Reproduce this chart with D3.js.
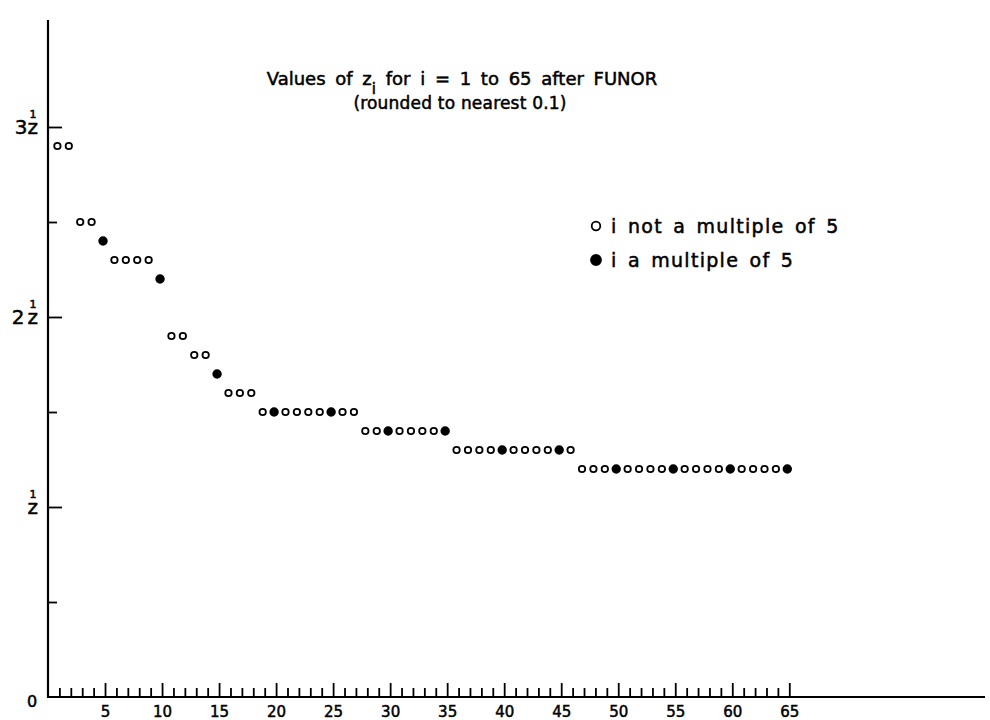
<!DOCTYPE html>
<html>
<head>
<meta charset="utf-8">
<script src="https://cdn.jsdelivr.net/npm/d3@7"></script>
<style>
  body { margin: 0; background: #fff; }
  text { font-family: "DejaVu Sans", sans-serif; fill: #000; stroke: #000; stroke-width: 0.5px; }
</style>
</head>
<body>
<svg id="chart"></svg>
<script>
// i = 1..65
var index = d3.range(1, 66)

// z_i values (rounded to 0.1), in units of z^1
var values = [
  2.9, 2.9,
  2.5, 2.5,
  2.4,
  2.3, 2.3, 2.3, 2.3,
  2.2,
  1.9, 1.9,
  1.8, 1.8,
  1.7,
  1.6, 1.6, 1.6,
  1.5, 1.5, 1.5, 1.5, 1.5, 1.5, 1.5, 1.5, 1.5,
  1.4, 1.4, 1.4, 1.4, 1.4, 1.4, 1.4, 1.4,
  1.3, 1.3, 1.3, 1.3, 1.3, 1.3, 1.3, 1.3, 1.3, 1.3, 1.3,
  1.2, 1.2, 1.2, 1.2, 1.2, 1.2, 1.2, 1.2, 1.2, 1.2,
  1.2, 1.2, 1.2, 1.2, 1.2, 1.2, 1.2, 1.2, 1.2
]

var xLabels = [5, 10, 15, 20, 25, 30, 35, 40, 45, 50, 55, 60, 65]
var yMajor = [1, 2, 3]
var yMinor = [0.5, 1.5, 2.5]
var yLabels = ["", "2", "3"]

var legendItems = ["i not a multiple of 5", "i a multiple of 5"]

var data = index.map(function(d, k) { return { i: d, v: values[k], filled: d % 5 === 0 } })

var dimensions = { width: 990, height: 720 }

var svg = d3.select("#chart")
  .attr("width", dimensions.width)
  .attr("height", dimensions.height)

var x = d3.scaleLinear().domain([0, 65]).range([48, 789.3])
var y = d3.scaleLinear().domain([0, 3]).range([697, 127])

// x axis: small ticks for every i, tall ones every 5
svg.append("g")
  .attr("transform", "translate(0," + y(0) + ")")
  .call(d3.axisBottom(x).tickValues(index.filter(function(d){ return d % 5 !== 0 }))
    .tickSize(-9).tickFormat(""))
  .call(function(g){ g.select(".domain").remove() })
  .selectAll("line").attr("stroke", "#000").attr("stroke-width", 1.8)

svg.append("g")
  .attr("transform", "translate(0," + y(0) + ")")
  .call(d3.axisBottom(x).tickValues(xLabels).tickSize(-14).tickPadding(9))
  .call(function(g){ g.select(".domain").remove() })
  .call(function(g){
    g.selectAll("line").attr("stroke", "#000").attr("stroke-width", 1.8)
    g.selectAll("text").style("font-size", "15px").attr("fill", "#000")
      .style("font-family", "DejaVu Sans, sans-serif")
  })

// y axis ticks (pointing inward)
svg.append("g")
  .attr("transform", "translate(" + x(0) + ",0)")
  .call(d3.axisLeft(y).tickValues(yMinor).tickSize(-9).tickFormat(""))
  .call(function(g){ g.select(".domain").remove() })
  .selectAll("line").attr("stroke", "#000").attr("stroke-width", 1.8)

var yAx = svg.append("g")
  .attr("transform", "translate(" + x(0) + ",0)")
  .call(d3.axisLeft(y).tickValues(yMajor).tickSize(-14).tickFormat(""))
  .call(function(g){ g.select(".domain").remove() })
yAx.selectAll("line").attr("stroke", "#000").attr("stroke-width", 1.8)

// axis lines
svg.append("line")
  .attr("x1", x(0)).attr("x2", 985)
  .attr("y1", y(0)).attr("y2", y(0))
  .attr("stroke", "#000").attr("stroke-width", 2.2)
svg.append("line")
  .attr("x1", x(0)).attr("x2", x(0))
  .attr("y1", y(0) + 1).attr("y2", 20)
  .attr("stroke", "#000").attr("stroke-width", 2.2)

// y labels: multiples of z with a "1" written above the z
yMajor.forEach(function(d, k) {
  var t = svg.append("text")
    .attr("x", 38).attr("y", y(d) + 7)
    .attr("text-anchor", "end")
    .style("font-size", "20px")
  if (yLabels[k]) t.append("tspan").text(yLabels[k])
  t.append("tspan").attr("dx", yLabels[k] === "2" ? 3 : 0).text("z")
  t.append("tspan")
    .attr("dx", -8.5).attr("dy", -16)
    .style("font-size", "11px")
    .text("1")
  t.append("tspan").attr("dx", -2).text("\u200a")
})
svg.append("text")
  .attr("x", 32).attr("y", y(0) + 10)
  .attr("text-anchor", "middle")
  .style("font-size", "16px")
  .text("0")

// points
svg.append("g")
  .selectAll("circle")
  .data(data)
  .join("circle")
    .attr("cx", function(d){ return x(d.i) - 2 })
    .attr("cy", function(d){ return y(d.v) })
    .attr("r", function(d){ return d.filled ? 3.8 : 3.2 })
    .attr("fill", function(d){ return d.filled ? "#000" : "#fff" })
    .attr("stroke", "#000")
    .attr("stroke-width", 1.8)

// title
var title = svg.append("text")
  .attr("x", 462).attr("y", 85)
  .attr("text-anchor", "middle")
  .style("font-size", "18px")
  .attr("word-spacing", "4px")
title.append("tspan").text("Values of z")
title.append("tspan").attr("dy", 9).style("font-size", "15px").text("i")
title.append("tspan").attr("dy", -9).text(" for i = 1 to 65 after FUNOR")

svg.append("text")
  .attr("x", 460).attr("y", 109)
  .attr("text-anchor", "middle")
  .style("font-size", "17px")
  .style("letter-spacing", "0.2px")
  .text("(rounded to nearest 0.1)")

// legend
svg.selectAll("legdots")
  .data(legendItems)
  .join("circle")
    .attr("cx", 596)
    .attr("cy", function(d, i){ return 226 + i * 34 })
    .attr("r", function(d, i){ return i ? 5 : 4.3 })
    .attr("fill", function(d, i){ return i ? "#000" : "#fff" })
    .attr("stroke", "#000")
    .attr("stroke-width", 1.8)

svg.selectAll("leglabels")
  .data(legendItems)
  .join("text")
    .attr("x", 611)
    .attr("y", function(d, i){ return 226 + i * 34 })
    .attr("dy", "0.35em")
    .style("font-size", "19px")
    .style("letter-spacing", "1.3px")
    .attr("word-spacing", "3px")
    .text(function(d){ return d })
</script>
</body>
</html>
